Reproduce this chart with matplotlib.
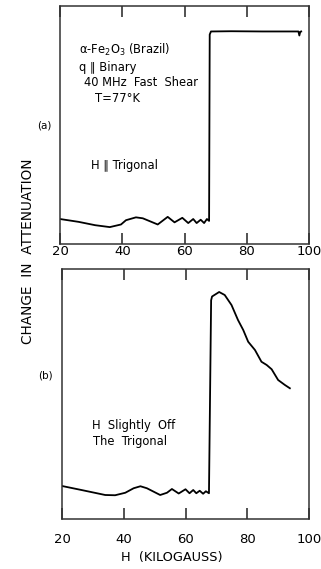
import numpy as np
import matplotlib.pyplot as plt

plt.rcParams['mathtext.default'] = 'regular'
plt.rcParams['font.family'] = 'DejaVu Sans'

# field values (kilogauss) and attenuation (arbitrary units 0-100)
top_h = [20, 26, 31.3, 36, 39.6, 41.2, 44.4, 46.6, 51.4, 54.6, 56.8, 59.3, 61.2,
         62.8, 63.9, 65.2, 66.3, 67.2, 67.9, 68.1, 68.5, 75, 85, 96.6, 96.9, 97.2, 97.5]
top_att = [10.5, 9.3, 7.9, 7.1, 8.2, 10.0, 11.2, 10.8, 8.2, 11.4, 9.1, 11.0, 8.8,
           10.5, 8.8, 10.2, 8.8, 10.5, 9.7, 88.0, 89.3, 89.4, 89.3, 89.3, 87.6, 89.2, 89.3]

bot_h = [20, 26.3, 34, 37.2, 40.5, 43.2, 45.4, 47.5, 51.8, 54, 55.6, 57.8, 60,
         61.3, 62.5, 63.5, 64.6, 65.7, 66.6, 67.6, 68.3, 68.6, 70.9, 72.7, 74.9,
         77, 78.7, 80.3, 82.5, 84.6, 86.3, 87.9, 90, 92.2, 93.8]
bot_att = [13.2, 11.6, 9.6, 9.5, 10.5, 12.3, 13.1, 12.3, 9.6, 10.5, 12.0, 10.2, 11.9,
           10.3, 11.6, 10.3, 11.3, 10.1, 11.1, 10.3, 87.5, 89.0, 90.8, 89.6, 85.6,
           79.6, 75.6, 70.9, 67.6, 62.9, 61.6, 59.9, 55.6, 53.6, 52.3]

xticks = [20, 40, 60, 80, 100]

W, H = 321, 569
fig = plt.figure(figsize=(W / 100, H / 100), dpi=100)


# helper: pixel box -> figure fraction
def px_axes(l, t, r, b):
    return fig.add_axes([l / W, 1 - b / H, (r - l) / W, (b - t) / H])


def px_text(x, y, s, **kw):
    fig.text(x / W, 1 - y / H, s, **kw)


def style(ax, pad):
    ax.set_xlim(20, 100)
    ax.set_ylim(0, 100)
    ax.set_yticks([])
    ax.set_xticks(xticks)
    ax.tick_params(axis='x', direction='in', top=True, length=8, width=1.1,
                   labelsize=9.5, pad=pad, color='#222')
    for s in ax.spines.values():
        s.set_linewidth(1.1)
        s.set_color('#333')


ax1 = px_axes(60, 6, 309, 244)
ax1.plot(top_h, top_att, color='black', lw=1.3)
style(ax1, 1)

ax2 = px_axes(62, 269, 309, 519)
ax2.plot(bot_h, bot_att, color='black', lw=1.3)
style(ax2, 10)

fs = 8.3
px_text(79, 50, r"α-Fe$_2$O$_3$ (Brazil)", fontsize=fs, va='center')
px_text(79, 67, "q \u2225 Binary", fontsize=fs, va='center')
px_text(84, 83, "40 MHz  Fast  Shear", fontsize=fs, va='center')
px_text(95, 98, "T=77°K", fontsize=fs, va='center')
px_text(91, 165, "H \u2225 Trigonal", fontsize=fs, va='center')

px_text(92, 426, "H  Slightly  Off", fontsize=fs, va='center')
px_text(93, 441, "The  Trigonal", fontsize=fs, va='center')

px_text(44, 125, "(a)", fontsize=7.5, ha='center', va='center')
px_text(45, 375, "(b)", fontsize=7.5, ha='center', va='center')
px_text(28, 251, "CHANGE  IN  ATTENUATION", rotation=90,
        fontsize=9.8, ha='center', va='center')
px_text(172, 558, "H  (KILOGAUSS)", fontsize=9.3, ha='center', va='center')

fig.savefig('out.png', dpi=100)
